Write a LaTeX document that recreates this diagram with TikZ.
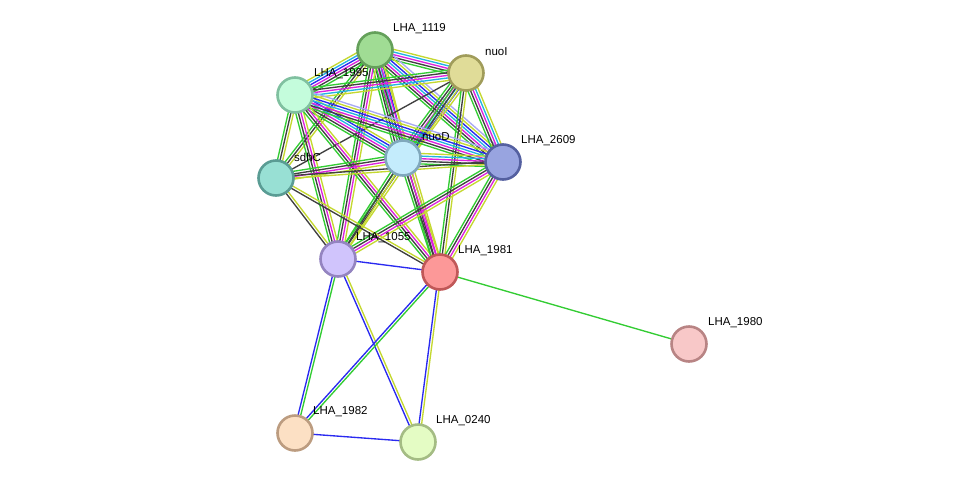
\documentclass[tikz,border=0pt]{standalone}
\usepackage{fontspec}
\setmainfont{Liberation Sans}
\usetikzlibrary{calc,backgrounds}

% evidence colours
\definecolor{nb}{HTML}{33CC33}  % neighbourhood
\definecolor{co}{HTML}{2A2AF0}  % co-occurrence
\definecolor{cx}{HTML}{404040}  % co-expression
\definecolor{ex}{HTML}{DD22DD}  % experiments
\definecolor{db}{HTML}{22B4E0}  % databases
\definecolor{tm}{HTML}{C4D830}  % textmining
\definecolor{hm}{HTML}{A8A8F4}  % homology

% protein colours (fill, rim)
\definecolor{f1119}{HTML}{A0DC94}\definecolor{r1119}{HTML}{64A05A}
\definecolor{fnuoI}{HTML}{E0DC98}\definecolor{rnuoI}{HTML}{A09C5A}
\definecolor{f1995}{HTML}{C4FCDC}\definecolor{r1995}{HTML}{80C0A0}
\definecolor{fnuoD}{HTML}{C4ECFC}\definecolor{rnuoD}{HTML}{80A8BC}
\definecolor{f2609}{HTML}{98A4E0}\definecolor{r2609}{HTML}{5460A0}
\definecolor{fsdhC}{HTML}{98E0D4}\definecolor{rsdhC}{HTML}{5A9C94}
\definecolor{f1055}{HTML}{D0C4FC}\definecolor{r1055}{HTML}{9484C0}
\definecolor{f1981}{HTML}{FC9898}\definecolor{r1981}{HTML}{C05858}
\definecolor{f1980}{HTML}{F8C8C8}\definecolor{r1980}{HTML}{B88484}
\definecolor{f1982}{HTML}{FCE0C4}\definecolor{r1982}{HTML}{BC9C80}
\definecolor{f0240}{HTML}{E4FCC4}\definecolor{r0240}{HTML}{A4BC84}

\tikzset{
  protein/.style={circle, line width=2.6pt, minimum size=35pt, inner sep=0pt,
    fill=f#1, draw=r#1},
  plabel/.style={anchor=west, inner sep=0pt, font=\fontsize{11.5}{13}\selectfont},
  link/.style={line width=1.35pt},
}

% parallel lines between two nodes, one per colour
\newcommand{\bundle}[3]{%
  \foreach \col [count=\n] in {#3} {\xdef\bundlen{\n}}%
  \foreach \col [count=\i] in {#3} {%
    \pgfmathsetmacro\off{(\i-(\bundlen+1)/2)*2.6}%
    \draw[link, draw=\col] ($(#1)!\off pt!90:(#2)$) -- ($(#2)!\off pt!-90:(#1)$);
  }%
}

\begin{document}
\begin{tikzpicture}[x=1pt, y=-1pt]
\useasboundingbox (0,0) rectangle (975,488);

% Draw proteins
\node[protein=1119] (l1119) at (375,50) {};
\node[protein=nuoI] (nuoI) at (466,73) {};
\node[protein=1995] (l1995) at (295,95) {};
\node[protein=nuoD] (nuoD) at (403,158) {};
\node[protein=2609] (l2609) at (503,162) {};
\node[protein=sdhC] (sdhC) at (276,178) {};
\node[protein=1055] (l1055) at (338,259) {};
\node[protein=1981] (l1981) at (440,272) {};
\node[protein=1980] (l1980) at (689,344) {};
\node[protein=1982] (l1982) at (295,433) {};
\node[protein=0240] (l0240) at (418,442) {};

% Labels
\node[plabel] (l1119t) at ($(l1119)+(18,-21)$) {LHA\_1119};
\node[plabel] (nuoIt) at ($(nuoI)+(19,-21)$) {nuoI};
\node[plabel] (l1995t) at ($(l1995)+(19,-21)$) {LHA\_1995};
\node[plabel] (nuoDt) at ($(nuoD)+(19,-21)$) {nuoD};
\node[plabel] (l2609t) at ($(l2609)+(18,-21)$) {LHA\_2609};
\node[plabel] (sdhCt) at ($(sdhC)+(18,-21)$) {sdhC};
\node[plabel] (l1055t) at ($(l1055)+(18,-21)$) {LHA\_1055};
\node[plabel] (l1981t) at ($(l1981)+(18,-21)$) {LHA\_1981};
\node[plabel] (l1980t) at ($(l1980)+(19,-21)$) {LHA\_1980};
\node[plabel] (l1982t) at ($(l1982)+(18,-21)$) {LHA\_1982};
\node[plabel] (l0240t) at ($(l0240)+(18,-21)$) {LHA\_0240};

% Draw links behind the proteins
\begin{pgfonlayer}{background}
\bundle{l1119}{nuoI}{nb,cx,ex,db,tm}
\bundle{l1119}{l1995}{tm,db,co,ex,cx,nb}
\bundle{l1119}{nuoD}{nb,cx,ex,db,co,tm}
\bundle{l1119}{l2609}{nb,cx,ex,db,co,tm,hm}
\bundle{l1119}{sdhC}{nb,cx,tm}
\bundle{l1119}{l1055}{nb,cx,ex,tm}
\bundle{l1119}{l1981}{nb,cx,ex,tm}
\bundle{nuoI}{l1995}{nb,cx,ex,db,tm}
\bundle{nuoI}{nuoD}{nb,cx,ex,db,co,tm}
\bundle{nuoI}{l2609}{nb,cx,ex,db,tm}
\bundle{nuoI}{sdhC}{cx}
\bundle{nuoI}{l1055}{nb,cx,tm}
\bundle{nuoI}{l1981}{nb,cx,tm}
\bundle{l1995}{nuoD}{nb,cx,ex,db,co,tm}
\bundle{l1995}{l2609}{nb,cx,ex,db,co,tm,hm}
\bundle{l1995}{sdhC}{nb,cx,tm}
\bundle{l1995}{l1055}{nb,cx,ex,tm}
\bundle{l1995}{l1981}{nb,cx,ex,tm}
\bundle{nuoD}{l2609}{nb,cx,ex,db,tm}
\bundle{nuoD}{sdhC}{nb,cx,ex,tm}
\bundle{nuoD}{l1055}{nb,cx,tm}
\bundle{nuoD}{l1981}{nb,cx,ex,tm}
\bundle{l2609}{sdhC}{cx,tm}
\bundle{l2609}{l1055}{nb,cx,ex,tm}
\bundle{l2609}{l1981}{nb,cx,ex,tm}
\bundle{sdhC}{l1055}{cx,tm}
\bundle{sdhC}{l1981}{cx,tm}
\bundle{l1055}{l1981}{co}
\bundle{l1055}{l1982}{co,nb}
\bundle{l1055}{l0240}{co,tm}
\bundle{l1981}{l1982}{co,nb}
\bundle{l1981}{l0240}{co,tm}
\bundle{l1982}{l0240}{co}
\bundle{l1981}{l1980}{nb}
\end{pgfonlayer}
\end{tikzpicture}
\end{document}
